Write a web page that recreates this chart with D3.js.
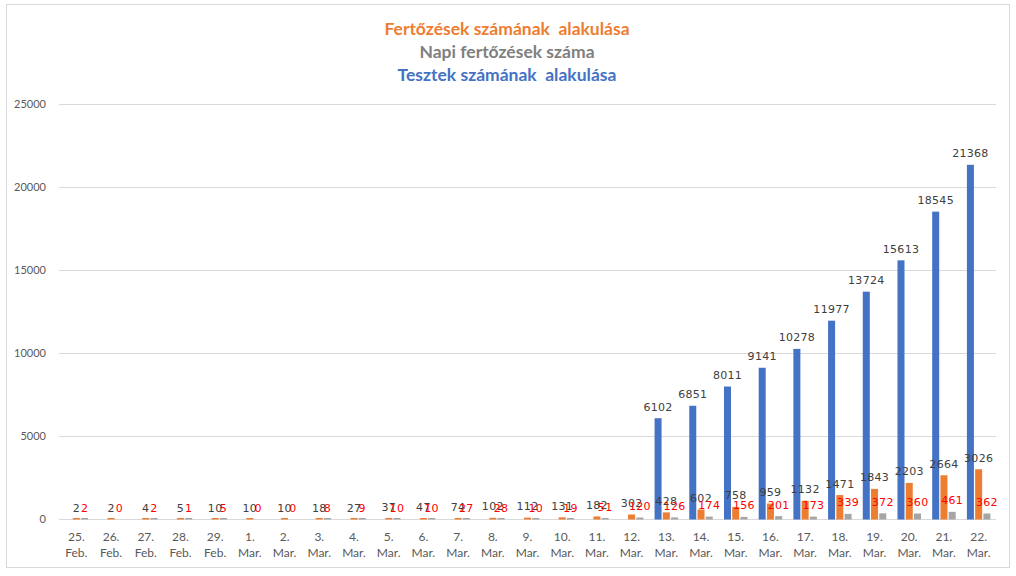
<!DOCTYPE html>
<html>
<head>
<meta charset="utf-8">
<title>Tesztek és fertőzések</title>
<style>
  body, html { margin: 0; padding: 0; background: #fff; }
  .grid line { stroke: #d9d9d9; stroke-width: 1px; }
  .ytick { font: 11px Lato, sans-serif; fill: #595959; }
  .xtick { font: 12px Lato, sans-serif; fill: #595959; }
  .lbl { font: 11px "DejaVu Sans", sans-serif; letter-spacing: 0.3px; }
  .title { font: bold 17.5px Lato, sans-serif; }
</style>
</head>
<body>
<svg id="svg" width="1016" height="576"></svg>
<script src="https://d3js.org/d3.v7.min.js"></script>
<script>
// categories: day / month
const days = ['25.', '26.', '27.', '28.', '29.', '1.', '2.', '3.', '4.', '5.', '6.', '7.', '8.', '9.',
  '10.', '11.', '12.', '13.', '14.', '15.', '16.', '17.', '18.', '19.', '20.', '21.', '22.']
const months = ['Feb.', 'Feb.', 'Feb.', 'Feb.', 'Feb.', 'Mar.', 'Mar.', 'Mar.', 'Mar.', 'Mar.', 'Mar.',
  'Mar.', 'Mar.', 'Mar.', 'Mar.', 'Mar.', 'Mar.', 'Mar.', 'Mar.', 'Mar.', 'Mar.', 'Mar.', 'Mar.',
  'Mar.', 'Mar.', 'Mar.', 'Mar.']

// blue: tests (no data before 13 Mar)
const tests = [null, null, null, null, null, null, null, null, null, null, null, null, null, null,
  null, null, null, 6102, 6851, 8011, 9141, 10278, 11977, 13724, 15613, 18545, 21368]
// orange: cumulative
const cumulative = [2, 2, 4, 5, 10, 10, 10, 18, 27, 37, 47, 74, 102, 112, 131, 182, 302,
  428, 602, 758, 959, 1132, 1471, 1843, 2203, 2664, 3026]
// gray: daily
const daily = [2, 0, 2, 1, 5, 0, 0, 8, 9, 10, 10, 27, 28, 10, 19, 51, 120,
  126, 174, 156, 201, 173, 339, 372, 360, 461, 362]

const yTicks = [0, 5000, 10000, 15000, 20000, 25000]

const titles = [
  { text: 'Fertőzések számának\u00a0\u00a0alakulása', color: '#ED7D31' },
  { text: 'Napi fertőzések száma', color: '#7F7F7F' },
  { text: 'Tesztek számának\u00a0\u00a0alakulása', color: '#4472C4' }
]

const series = [
  { key: 'tests', values: tests, color: '#4472C4', labelColor: '#404040' },
  { key: 'cumulative', values: cumulative, color: '#ED7D31', labelColor: '#404040' },
  { key: 'daily', values: daily, color: '#A5A5A5', labelColor: '#FF0000' }
]

const svg = d3.select('#svg')

// chart frame
svg.append('rect')
  .attr('x', 6.5).attr('y', 4.5)
  .attr('width', 1003).attr('height', 563)
  .attr('fill', '#fff')
  .attr('stroke', '#d9d9d9')

// titles
svg.selectAll('.title')
  .data(titles)
  .enter().append('text')
  .attr('class', 'title')
  .attr('x', 507)
  .attr('y', (d, i) => 35 + i * 23)
  .attr('text-anchor', 'middle')
  .attr('fill', d => d.color)
  .text(d => d.text)

const plotLeft = 59, plotRight = 996, plotTop = 104, plotBottom = 519

const x0 = d3.scaleBand()
  .domain(d3.range(days.length))
  .range([plotLeft, plotRight])

const x1 = d3.scaleBand()
  .domain(series.map(s => s.key))
  .range([5.6, x0.bandwidth() - 5.6])
  .paddingInner(0.15)

const y = d3.scaleLinear()
  .domain([0, 25000])
  .range([plotBottom, plotTop])

// gridlines
const grid = svg.append('g').attr('class', 'grid')
grid.selectAll('line')
  .data(yTicks)
  .enter().append('line')
  .attr('x1', plotLeft).attr('x2', plotRight)
  .attr('y1', d => Math.round(y(d)) + 0.5)
  .attr('y2', d => Math.round(y(d)) + 0.5)

// y tick labels
svg.selectAll('.ytick')
  .data(yTicks)
  .enter().append('text')
  .attr('class', 'ytick')
  .attr('x', 46)
  .attr('y', d => y(d) + 4)
  .attr('text-anchor', 'end')
  .text(d => d)

// x tick labels (two lines)
const xt = svg.selectAll('.xtick')
  .data(days)
  .enter().append('text')
  .attr('class', 'xtick')
  .attr('text-anchor', 'middle')
  .attr('x', (d, i) => x0(i) + x0.bandwidth() / 2)
xt.append('tspan')
  .attr('x', (d, i) => x0(i) + x0.bandwidth() / 2)
  .attr('y', 541)
  .text(d => d)
xt.append('tspan')
  .attr('x', (d, i) => x0(i) + x0.bandwidth() / 2)
  .attr('y', 557)
  .text((d, i) => months[i])

// bars
const groups = svg.selectAll('.day')
  .data(days.map((d, i) => i))
  .enter().append('g')
  .attr('class', 'day')
  .attr('transform', i => `translate(${x0(i)},0)`)

// tiny non-zero values still get a visible sliver, like the original
const barH = v => v > 0 ? Math.max(1.5, plotBottom - y(v)) : 0

series.forEach(s => {
  groups.filter(i => s.values[i] !== null)
    .append('rect')
    .attr('x', x1(s.key))
    .attr('width', x1.bandwidth())
    .attr('y', i => plotBottom - barH(s.values[i]) + 0.5)
    .attr('height', i => barH(s.values[i]))
    .attr('fill', s.color)
})

// data labels
series.forEach(s => {
  groups.filter(i => s.values[i] !== null)
    .append('text')
    .attr('class', 'lbl')
    .attr('x', x1(s.key) + x1.bandwidth() / 2)
    .attr('y', i => y(s.values[i]) - 7)
    .attr('text-anchor', 'middle')
    .attr('fill', s.labelColor)
    .text(i => s.values[i])
})
</script>
</body>
</html>
